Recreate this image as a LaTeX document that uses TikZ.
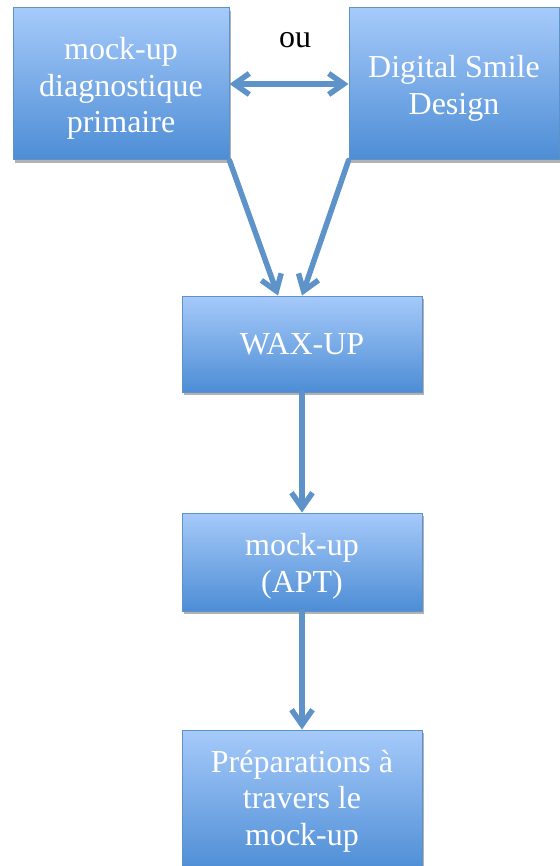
\documentclass[tikz,border=0pt]{standalone}
\usepackage{fontspec}
\setmainfont{Liberation Serif}
\usetikzlibrary{positioning,shadows,arrows.meta}

\definecolor{boxtop}{HTML}{A6CAFA}
\definecolor{boxbot}{HTML}{4D8DD5}
\definecolor{boxline}{HTML}{5E93C9}

% first line a bit lower, as in the boxes of the original
\newcommand{\haut}{\rule{0pt}{31pt}}

\tikzset{
  etape/.style={draw=boxline, line width=1pt, top color=boxtop, bottom color=boxbot,
    text=white, align=center, inner sep=0pt, font=\fontsize{32}{36.5}\selectfont,
    drop shadow={shadow xshift=2pt, shadow yshift=-3pt, opacity=0.3, fill=black}},
  fleche/.style={draw=boxline, line width=5.5pt, line cap=round,
    -{Straight Barb[length=15pt, width=21pt]}},
}

\begin{document}
\begin{tikzpicture}[x=1pt, y=-1pt]
\useasboundingbox (0,0) rectangle (559,866);
\node[etape, minimum width=216pt, minimum height=152pt] (gauche) at (121,84) {\haut mock-up\\diagnostique\\primaire};
\node[etape, minimum width=210pt, minimum height=152pt] (droite) at (454,84) {\haut Digital Smile\\Design};
\node[font=\fontsize{32}{36}\selectfont] (ou) at (295,40) {ou};
\node[etape, minimum width=240pt, minimum height=96pt] (wax) at (302,344) {WAX-UP};
\node[etape, minimum width=240pt, minimum height=98pt, below=120pt of wax] (apt) {\haut mock-up\\(APT)};
\node[etape, minimum width=240pt, minimum height=142pt, below=118pt of apt] (prep) {Préparations à\\travers le\\mock-up};

\draw[fleche, {Straight Barb[length=15pt, width=21pt]}-{Straight Barb[length=15pt, width=21pt]}] (gauche.east) -- (droite.west);
\draw[fleche] (gauche.south east) -- ([xshift=-24pt]wax.north);
\draw[fleche] (droite.south west) -- (wax.north);
\draw[fleche] (wax.south) -- (apt.north);
\draw[fleche] (apt.south) -- (prep.north);
\end{tikzpicture}
\end{document}
